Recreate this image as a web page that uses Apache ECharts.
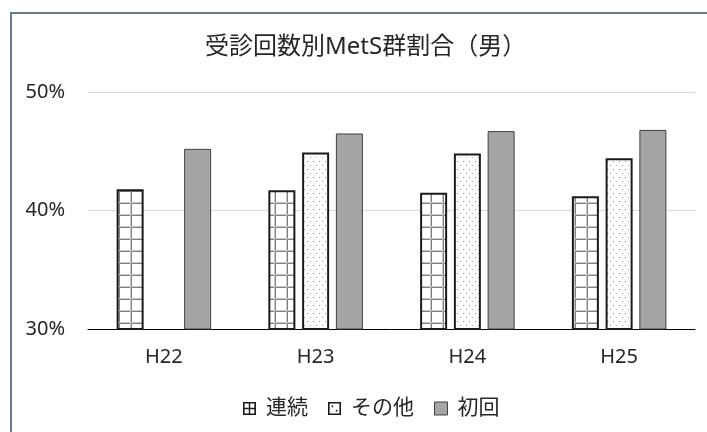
<!DOCTYPE html>
<html><head><meta charset="utf-8">
<script src="https://cdn.jsdelivr.net/npm/echarts@6/dist/echarts.min.js"></script>
<style>html,body{margin:0;padding:0;background:#fff}#c{width:707px;height:432px}</style>
</head><body><div id="c"></div>
<script>
var categories = ['H22','H23','H24','H25'];
var seriesNames = ['連続','その他','初回'];
var renzoku = [41.8, 41.7, 41.5, 41.2];
var sonota = [null, 44.9, 44.8, 44.4];
var shokai = [45.2, 46.5, 46.7, 46.8];
var yTicks = [30, 40, 50];

function gridPattern(){
  var c = document.createElement('canvas'); c.width = 12; c.height = 12;
  var g = c.getContext('2d');
  g.fillStyle = '#fff'; g.fillRect(0,0,12,12);
  g.fillStyle = '#7f7f7f'; g.fillRect(0,11,12,1); g.fillRect(11,0,1,12);
  g.fillStyle = '#c8c8c8'; g.fillRect(0,10,12,1); g.fillRect(10,0,1,12);
  return c;
}
function dotPattern(){
  var c = document.createElement('canvas'); c.width = 6; c.height = 8;
  var g = c.getContext('2d');
  g.fillStyle = '#fff'; g.fillRect(0,0,6,8);
  g.fillStyle = '#8a8a8a'; g.fillRect(1,1,1,1);
  g.fillStyle = '#b0b0b0'; g.fillRect(4,5,1,1);
  return c;
}
var iconGrid = 'path://M0 0L13 0L13 13L0 13Z M1.6 1.6L1.6 5.8L5.8 5.8L5.8 1.6Z M7.2 1.6L7.2 5.8L11.4 5.8L11.4 1.6Z M1.6 7.2L1.6 11.4L5.8 11.4L5.8 7.2Z M7.2 7.2L7.2 11.4L11.4 11.4L11.4 7.2Z';
var iconDots = 'path://M0 0L13 0L13 13L0 13Z M1.6 1.6L1.6 11.4L11.4 11.4L11.4 1.6Z M3.6 3.6L5.2 3.6L5.2 5.2L3.6 5.2Z M7.8 7.8L9.4 7.8L9.4 9.4L7.8 9.4Z';

var chart = echarts.init(document.getElementById('c'));
var font = '"Noto Sans", "Noto Sans CJK JP", sans-serif';
chart.setOption({
  backgroundColor: '#fff',
  animation: false,
  title: {text: '受診回数別MetS群割合（男）', left: 200, top: 30,
    textStyle: {fontFamily: font, fontSize: 24, fontWeight: 'normal', color: '#262626'}},
  legend: {left: 238, top: 393, itemWidth: 13, itemHeight: 13, itemGap: 20,
    textStyle: {fontFamily: font, fontSize: 21, color: '#262626', padding: [0,0,0,5]},
    data: [
      {name: seriesNames[0], icon: iconGrid, itemStyle: {color: '#1a1a1a', borderWidth: 0}},
      {name: seriesNames[1], icon: iconDots, itemStyle: {color: '#1a1a1a', borderWidth: 0}},
      {name: seriesNames[2], icon: 'rect', itemStyle: {color: '#a5a5a5', borderColor: '#404040', borderWidth: 1}}
    ]},
  grid: {left: 88, right: 12, top: 92, bottom: 103},
  xAxis: {type: 'category', data: categories,
    axisLine: {lineStyle: {color: '#000', width: 1}}, axisTick: {show: false},
    axisLabel: {fontFamily: font, fontSize: 20, color: '#262626', margin: 18}},
  yAxis: {type: 'value', min: yTicks[0], max: yTicks[yTicks.length-1], interval: 10,
    axisLine: {show: false}, axisTick: {show: false},
    splitLine: {lineStyle: {color: '#d9d9d9'}},
    axisLabel: {fontFamily: font, fontSize: 20, color: '#262626', margin: 23, formatter: '{value}%'}},
  series: [
    {name: seriesNames[0], type: 'bar', data: renzoku, barWidth: 27, barGap: '25%',
      itemStyle: {color: {image: gridPattern(), repeat: 'repeat'}, borderColor: '#1a1a1a', borderWidth: 2}},
    {name: seriesNames[1], type: 'bar', data: sonota, barWidth: 27,
      itemStyle: {color: {image: dotPattern(), repeat: 'repeat'}, borderColor: '#1a1a1a', borderWidth: 2}},
    {name: seriesNames[2], type: 'bar', data: shokai, barWidth: 27,
      itemStyle: {color: '#a5a5a5', borderColor: '#404040', borderWidth: 1}}
  ],
  graphic: [{type: 'rect', shape: {x: 11, y: 13, width: 720, height: 450},
    style: {fill: 'none', stroke: '#6b7a8f', lineWidth: 2}, silent: true}]
});
</script></body></html>
